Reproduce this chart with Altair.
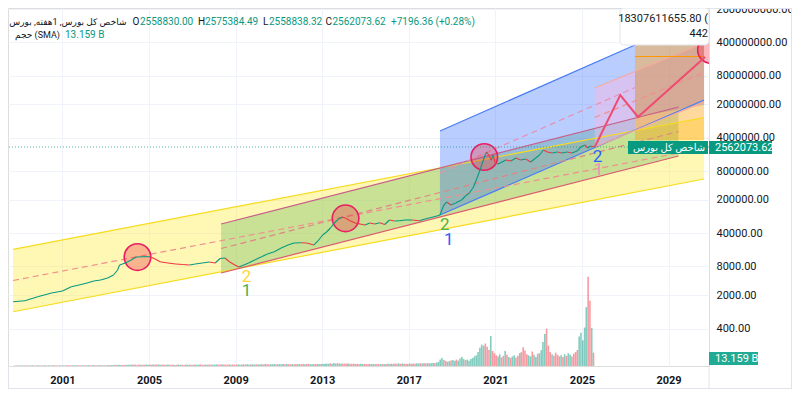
import altair as alt
import pandas as pd

FONT = "Roboto, 'DejaVu Sans', sans-serif"

# ---------------- data ----------------
price_years = [1998.72, 1999.27, 1999.86, 2000.50, 2001.00, 2001.41, 2001.77, 2002.14, 2002.45, 2002.77,
               2003.09, 2003.36, 2003.55, 2003.64, 2003.91, 2004.18, 2004.41, 2004.73, 2005.05, 2005.28,
               2005.51, 2005.87, 2006.23, 2006.55, 2006.87, 2007.14, 2007.46, 2007.78, 2008.06, 2008.28,
               2008.51, 2008.73, 2008.97, 2009.15, 2009.38, 2009.60, 2009.88, 2010.20, 2010.47, 2010.79,
               2011.11, 2011.42, 2011.70, 2012.02, 2012.29, 2012.61, 2012.84, 2013.02, 2013.20, 2013.38,
               2013.56, 2013.75, 2013.93, 2014.07, 2014.29, 2014.52, 2014.75, 2014.98, 2015.20, 2015.43,
               2015.66, 2015.89, 2016.11, 2016.34, 2016.57, 2016.84, 2017.16, 2017.48, 2017.75, 2018.03,
               2018.30, 2018.44, 2018.62, 2018.76, 2018.94, 2019.17, 2019.44, 2019.62, 2019.80, 2019.99,
               2020.12, 2020.26, 2020.40, 2020.53, 2020.60, 2020.72, 2020.81, 2020.90, 2020.99, 2021.12,
               2021.31, 2021.49, 2021.72, 2021.95, 2022.17, 2022.40, 2022.63, 2022.86, 2023.04, 2023.22,
               2023.40, 2023.63, 2023.86, 2024.08, 2024.31, 2024.54, 2024.77, 2024.95, 2025.13, 2025.27,
               2025.40, 2025.58]
price_values = [1462, 1534, 1862, 2222, 2449, 3011, 3273, 3603, 3969, 4166,
                4589, 5306, 6750, 8585, 9456, 10940, 12640, 12820, 12820, 11480,
                10080, 9456, 9010, 8810, 8585, 9010, 9456, 9930, 9456, 11770,
                12050, 9930, 8585, 7800, 8585, 9456, 10940, 12820, 14620, 16330,
                19520, 22550, 24850, 25190, 24850, 22550, 28710, 36530, 42270, 51280,
                65300, 79100, 87100, 83170, 72950, 65300, 62200, 59290, 65300, 62200,
                66200, 60700, 75500, 71800, 72950, 75500, 75500, 72950, 79100, 85100,
                91400, 96000, 155500, 179800, 155500, 171300, 198100, 240400, 277700, 371400,
                519800, 765600, 1183000, 1739000, 2009000, 1657000, 1366000, 1739000, 1183000, 1127000,
                1240000, 1366000, 1301000, 1504000, 1366000, 1433000, 1240000, 1504000, 1739000, 2213000,
                2009000, 1914000, 2009000, 1914000, 2009000, 1914000, 2108000, 2558000, 2817000, 2437000,
                2685000, 2562073.62]
last_close = 2562073.62

# monthly volume (billions), from 1998-10 to 2025-07
vol_values = [0.8, 1.0, 0.9,
    0.9, 1.1, 1.0, 1.2, 1.0, 0.9, 1.1, 1.3, 1.0, 0.9, 1.2, 1.0,
    1.2, 1.0, 1.4, 1.1, 1.3, 1.0, 1.2, 1.5, 1.1, 1.0, 1.3, 1.2,
    1.3, 1.1, 1.5, 1.2, 1.4, 1.6, 1.2, 1.3, 1.5, 1.1, 1.4, 1.2,
    1.4, 1.2, 1.6, 1.3, 1.5, 1.7, 1.3, 1.4, 1.6, 1.2, 1.5, 1.3,
    1.5, 1.8, 1.6, 2.0, 1.7, 2.2, 1.9, 2.4, 2.1, 1.8, 2.3, 2.0,
    2.5, 2.2, 2.8, 2.4, 2.6, 2.0, 2.7, 2.3, 2.5, 2.1, 2.9, 2.4,
    2.6, 2.2, 2.9, 2.4, 3.1, 2.7, 2.3, 2.8, 2.5, 2.2, 2.6, 2.4,
    2.3, 2.6, 2.1, 2.4, 2.8, 2.2, 2.5, 2.0, 2.7, 2.3, 2.6, 2.2,
    2.4, 2.8, 2.2, 2.6, 3.0, 2.5, 2.3, 2.7, 2.2, 2.9, 2.4, 2.6,
    2.7, 3.1, 2.5, 2.9, 3.2, 2.6, 2.8, 2.4, 3.0, 2.5, 2.7, 2.3,
    2.6, 3.0, 2.4, 2.8, 3.2, 2.7, 3.1, 2.6, 2.9, 3.3, 2.8, 3.0,
    3.2, 2.8, 3.5, 3.0, 3.6, 3.1, 2.9, 3.4, 3.0, 3.7, 3.2, 3.5,
    3.6, 3.1, 3.8, 3.3, 3.9, 3.4, 3.0, 3.6, 3.2, 3.7, 3.3, 3.5,
    3.4, 3.8, 3.2, 3.6, 4.0, 3.5, 3.3, 3.7, 3.4, 3.9, 3.5, 3.8,
    4.2, 3.8, 4.6, 4.1, 5.0, 4.4, 5.5, 4.8, 5.2, 4.5, 4.9, 4.3,
    4.6, 4.1, 4.8, 4.2, 3.9, 4.4, 3.8, 4.1, 3.7, 4.0, 3.6, 3.9,
    3.7, 3.4, 3.9, 3.5, 3.8, 3.3, 3.6, 3.9, 3.4, 3.7, 3.5, 3.8,
    4.0, 3.6, 4.3, 3.8, 4.5, 4.0, 4.8, 4.2, 4.6, 4.1, 4.4, 3.9,
    4.5, 4.0, 4.8, 4.3, 5.0, 4.6, 5.2, 4.7, 5.5, 4.9, 5.3, 5.0,
    5.4, 5.8, 5.2, 6.5, 7.5, 12, 15, 11, 9.5, 8.0, 9.0, 10.5,
    11, 9.5, 12, 10, 14, 17, 13, 11, 12, 10, 13, 15,
    18, 20, 26, 34, 40, 38, 42, 36, 30, 56, 28, 24,
    20, 18, 22, 16, 19, 28, 21, 17, 15, 18, 20, 16,
    19, 24, 26, 35, 29, 22, 20, 18, 27, 21, 17, 23,
    24, 30, 45, 60, 70, 38, 26, 22, 19, 25, 21, 18,
    20, 17, 22, 19, 24, 21, 18, 23, 26, 30, 55, 62,
    48, 72, 110, 167, 122, 71, 25]
vol_dirs = ("udu" "uudduduuddud" "ududuuddudud" "uuddduududdu" "duududduudud" "uudududuuddu"
            "uududddudduu" "ddudduudduud" "dduduuddudud" "uduuddduuddu" "uudduddddudd"
            "duududuuduud" "uuddudduuudu" "uuududdudduu" "ddudduudduud" "uuuuduuuduud"
            "ddudddudduud" "dduduuddudud" "uududdududdu" "dudduudududu" "uuduuuudduud"
            "uuduuuuduuuu" "uuuuuudddudd" "duuddududuud" "dudddduuduud" "uuuudddudddd"
            "ududuudddduu" "uuuddud")

# drawn channels (start year, end year) and their edge values
yellow_years = [1998.72, 2030.64]
yellow_lower = [901, 545600]
yellow_upper = [18340, 10630000]
yellow_mid = [4064, 2415000]
green_years = [2008.33, 2029.46]
green_lower = [5840, 1657000]
green_upper = [62200, 17630000]
green_mid = [19050, 5405000]
blue_years = [2018.44, 2027.45]
blue_lower = [96000, 5810000]
blue_upper = [5537000, 351900000]
blue_mid = [729000, 45200000]
blue_ray_years = [2018.44, 2030.64]
blue_ray = [96000, 24730000]
pink_years = [2025.59, 2030.64]
pink_lower = [2558000, 22460000]
pink_upper = [44100000, 387600000]
pink_mid = [10630000, 93300000]
target_years = [2027.45, 2030.64]
target_low = [3589000, 3589000]
target_high = [924000000, 924000000]
stop_low = [10890000, 19400000]
target_line = [201800000, 201800000]
zigzag_years = [2025.59, 2026.77, 2027.59, 2030.69]
zigzag_values = [2558000, 31470000, 10890000, 197200000]
circle_years = [2004.47, 2014.08, 2020.49, 2030.96]
circle_values = [12600, 81700, 1578000, 276000000]
wave_years = [2009.51, 2009.51, 2018.66, 2018.85, 2025.72, 2025.77]
wave_values = [4816, 2449, 59290, 28710, 1578000, 843000]
wave_texts = ["2", "1", "2", "1", "2", "1"]
wave_colors = ["#fdd835", "#4caf50", "#4caf50", "#2962ff", "#2962ff", "#f48fb1"]

y_ticks = [400, 2000, 8000, 40000, 200000, 800000, 4000000, 20000000, 80000000, 400000000, 2000000000]
x_tick_years = [2001, 2005, 2009, 2013, 2017, 2021, 2025, 2029]


def ydate(d):
    y = int(d)
    return pd.Timestamp(year=y, month=1, day=1) + pd.Timedelta(days=(d - y) * 365.25)


# ---------------- tables ----------------
pr_dates = [ydate(v) for v in price_years]
seg = pd.DataFrame({"date": pr_dates[:-1], "date2": pr_dates[1:],
                    "v": price_values[:-1], "v2": price_values[1:]})
seg["col"] = ["#089981" if b >= a else "#f23645" for a, b in zip(seg.v, seg.v2)]

vol_dates = pd.date_range("1998-10-01", periods=len(vol_values), freq="MS") + pd.Timedelta(days=14)
vol = pd.DataFrame({"date": vol_dates, "vol": vol_values})
vol["col"] = ["#089981" if c == "u" else "#f23645" for c in (vol_dirs + "u" * len(vol_values))[:len(vol_values)]]


def band(years, lo, hi):
    return pd.DataFrame({"date": [ydate(v) for v in years], "lo": lo, "hi": hi})


def line_rows(name, years, vals, color):
    return pd.DataFrame({"id": name, "date": [ydate(v) for v in years], "value": vals, "col": color})


solid = pd.concat([
    line_rows("yl", yellow_years, yellow_lower, "#f7dc1e"),
    line_rows("yh", yellow_years, yellow_upper, "#f7dc1e"),
    line_rows("gl", green_years, green_lower, "#dc5a70"),
    line_rows("gh", green_years, green_upper, "#c7608a"),
    line_rows("bh", blue_years, blue_upper, "#4a7cf6"),
    line_rows("br", blue_ray_years, blue_ray, "#4a7cf6"),
    line_rows("ph", pink_years, pink_upper, "#f8aa9c"),
    line_rows("pl", pink_years, pink_lower, "#f8aa9c"),
    line_rows("tl", target_years, target_line, "#ff9800"),
])
dashed = pd.concat([
    line_rows("ym", yellow_years, yellow_mid, "#f09090"),
    line_rows("gm", green_years, green_mid, "#e08585"),
    line_rows("bm", blue_years, blue_mid, "#e890b0"),
    line_rows("pm", pink_years, pink_mid, "#ee8f8f"),
])
zig = pd.DataFrame({"date": [ydate(v) for v in zigzag_years], "value": zigzag_values})
circ = pd.DataFrame({"date": [ydate(v) for v in circle_years], "value": circle_values})
waves = pd.DataFrame({"date": [ydate(v) for v in wave_years], "value": wave_values,
                      "t": wave_texts, "col": wave_colors})
one = pd.DataFrame({"k": [0]})

# ---------------- scales / axes ----------------
xscale = alt.Scale(domain=[alt.DateTime(year=1998, month=9, date=20),
                           alt.DateTime(year=2030, month=8, date=22)])
xaxis = alt.Axis(values=[alt.DateTime(year=y, month=1, date=1) for y in x_tick_years], format="%Y",
                 labelFontWeight="bold", labelFontSize=11, labelPadding=8, grid=True,
                 gridColor="#f0f3fa", domain=False, ticks=False, labelColor="#131722",
                 labelFont=FONT, labelFlush=False, title=None)
yscale = alt.Scale(type="log", domain=[65.6, 2.099e9], nice=False)
yaxis = alt.Axis(orient="right", values=y_ticks, format=".2f", labelFontSize=11, labelPadding=7,
                 grid=True, gridColor="#f0f3fa", domain=False, ticks=False, labelColor="#131722",
                 labelFont=FONT, labelFlush=False, labelOverlap=False, title=None)


def X(f="date"):
    return alt.X(f"{f}:T", scale=xscale, axis=xaxis)


def Y(f="value"):
    return alt.Y(f"{f}:Q", scale=yscale, axis=yaxis)


def area(years, lo, hi, color, op):
    return alt.Chart(band(years, lo, hi)).mark_area(color=color, opacity=op, clip=True).encode(
        x=X(), y=Y("lo"), y2=alt.Y2("hi:Q"))


def label(text, x, y, color, align="left", size=10, weight="normal"):
    return alt.Chart(one).mark_text(text=text, align=align, baseline="middle", fontSize=size,
                                    color=color, font=FONT, fontWeight=weight).encode(
        x=alt.value(x), y=alt.value(y))


def box(x, x2, y, y2, fill, stroke=None, radius=0):
    kw = dict(fill=fill, cornerRadius=radius)
    if stroke:
        kw["stroke"] = stroke
        kw["strokeWidth"] = 1
    return alt.Chart(one).mark_rect(**kw).encode(
        x=alt.value(x), x2=alt.value(x2), y=alt.value(y), y2=alt.value(y2))


def frame(x, x2, y, y2):
    return alt.Chart(one).mark_rule(color="#e0e3eb", strokeWidth=1).encode(
        x=alt.value(x), x2=alt.value(x2), y=alt.value(y), y2=alt.value(y2))


# ---------------- layers ----------------
vol_chart = alt.Chart(vol).mark_bar(size=1.6, opacity=0.5, clip=True).encode(
    x=X(), y=alt.Y("vol:Q", scale=alt.Scale(domain=[0, 670]), axis=None),
    color=alt.Color("col:N", scale=None))

layers = [
    area(yellow_years, yellow_lower, yellow_upper, "#ffeb3b", 0.38),
    area(green_years, green_lower, green_upper, "#4caf50", 0.3),
    area(blue_years, blue_lower, blue_upper, "#2962ff", 0.32),
    area(pink_years, pink_lower, pink_upper, "#f3bae5", 0.5),
    area(target_years, target_low, target_high, "#ff9800", 0.38),
    area(target_years, stop_low, target_high, "#807599", 0.3),
    alt.Chart(solid).mark_line(strokeWidth=1.2, clip=True).encode(
        x=X(), y=Y(), detail="id:N", color=alt.Color("col:N", scale=None)),
    alt.Chart(dashed).mark_line(strokeWidth=1.2, strokeDash=[6, 4], clip=True).encode(
        x=X(), y=Y(), detail="id:N", color=alt.Color("col:N", scale=None)),
    alt.Chart(circ).mark_circle(size=707, fill="#f23645", fillOpacity=0.35, stroke="#e91e63",
                                strokeWidth=1.6, strokeOpacity=1, opacity=1, clip=True).encode(
        x=X(), y=Y()),
    alt.Chart(seg).mark_rule(strokeWidth=1.1, clip=True).encode(
        x=X(), x2=alt.X2("date2:T"), y=Y("v"), y2=alt.Y2("v2:Q"),
        color=alt.Color("col:N", scale=None)),
    alt.Chart(zig).mark_line(color="#ee4c72", strokeWidth=2, clip=True).encode(x=X(), y=Y()),
    alt.Chart(waves).mark_text(fontSize=17, font=FONT, baseline="middle").encode(
        x=X(), y=Y(), text="t:N", color=alt.Color("col:N", scale=None)),
    alt.Chart(pd.DataFrame({"value": [last_close]})).mark_rule(
        color="#089981", strokeDash=[1, 2], strokeWidth=1, opacity=0.7).encode(y=Y()),
    # price / volume tags
    box(620, 700, 133, 146, "#089981"),
    label("شاخص کل بورس", 661, 139.5, "white", align="center", size=10),
    box(701, 764, 133, 146, "#089981"),
    label("2562073.62", 707, 139.5, "white", size=11),
    box(701, 750, 344, 357, "#22ab94"),
    label("13.159 B", 707, 350.5, "white", size=11),
    # info box (top right)
    box(612, 701, 0, 37, "white", stroke="#e0e3eb", radius=4),
    label("18307611655.80 (", 700, 11, "#131722", align="right", size=11),
    label("442", 700, 26, "#131722", align="right", size=11),
    # legend
    label("شاخص کل بورس, 1هفته, بورس", 118.5, 13.5, "#131722", align="right", size=9),
    label("O", 124.5, 13.5, "#131722"),
    label("2558830.00", 132, 13.5, "#089981"),
    label("H", 190, 13.5, "#131722"),
    label("2575384.49", 197, 13.5, "#089981"),
    label("L", 255, 13.5, "#131722"),
    label("2558838.32", 261, 13.5, "#089981"),
    label("C", 317.5, 13.5, "#131722"),
    label("2562073.62", 324.5, 13.5, "#089981"),
    label("+7196.36 (+0.28%)", 383, 13.5, "#089981"),
    label("حجم (SMA)", 7, 27, "#131722", size=9),
    label("13.159 B", 57, 27, "#089981"),
    # outer frame
    frame(783.5, 783.5, 0, 381),
    frame(0, 783.5, 380.5, 380.5),
    frame(701, 783.5, 0.5, 0.5),
    frame(701, 701, 358, 381),
    frame(0.5, 0.5, 358, 381),
]

chart = alt.layer(vol_chart, alt.layer(*layers)).resolve_scale(y="independent").properties(
    width=701, height=358,
    padding={"left": 0, "top": 0, "right": 83, "bottom": 31},
    autosize=alt.AutoSizeParams(type="none"),
).configure_view(stroke="#e0e3eb").configure(background="white")

chart.save("out.html", embed_options={"renderer": "svg", "actions": False})
